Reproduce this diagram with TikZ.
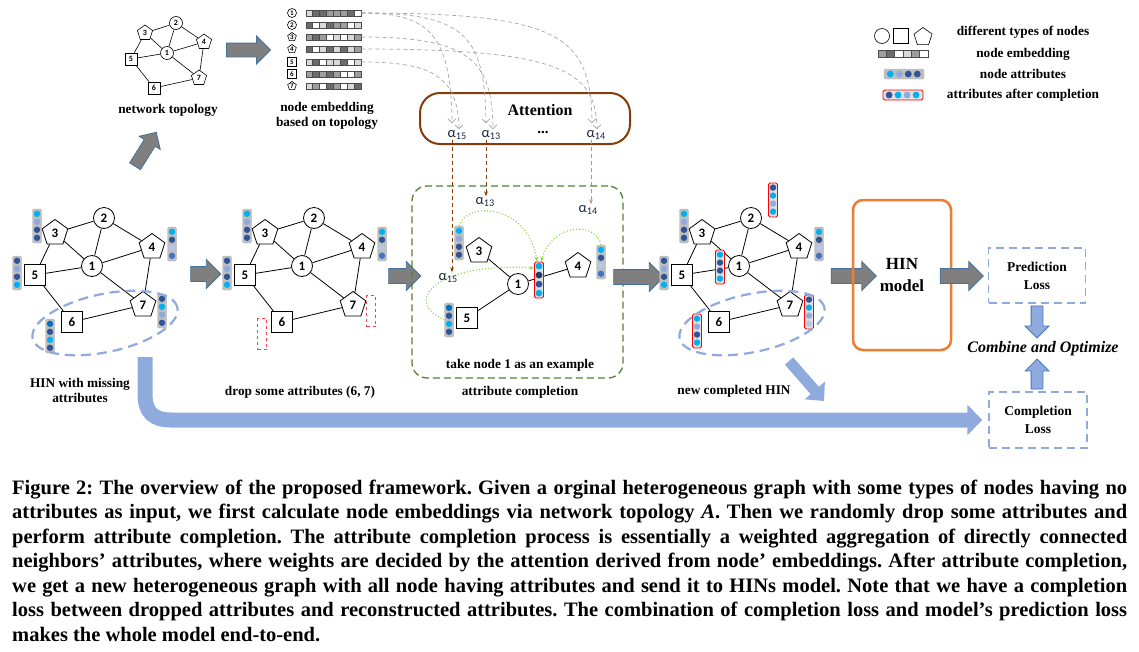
\documentclass[tikz,border=0pt]{standalone}
\usepackage{fontspec}
\setmainfont{Liberation Serif}
\newfontfamily\numfont{Carlito}
\newfontfamily\capfont{Liberation Serif}
\usetikzlibrary{arrows.meta,positioning,calc,shapes.geometric,shapes.arrows}

\definecolor{cy}{HTML}{00B0F0}
\definecolor{pw}{HTML}{8FAADC}
\definecolor{nv}{HTML}{2F5597}
\definecolor{dn}{HTML}{203864}
\definecolor{lb}{HTML}{B4C7E7}
\definecolor{mb}{HTML}{4472C4}
\definecolor{bl}{HTML}{0070C0}
\definecolor{attbrown}{HTML}{843C0C}
\definecolor{boxgreen}{HTML}{548235}
\definecolor{flowgreen}{HTML}{92D050}
\definecolor{hinorange}{HTML}{ED7D31}
\definecolor{arrowgray}{HTML}{7F7F7F}
\definecolor{arrowedge}{HTML}{41719C}
\definecolor{alphablue}{HTML}{1A2744}

\tikzset{
  lbl/.style={font=\fontsize{13.3}{15}\selectfont\bfseries, align=center, inner sep=0pt},
  edge/.style={line width=0.8pt},
  nbase/.style={draw, line width=0.8pt, fill=white, inner sep=0pt,
    font=\numfont\fontsize{13}{13}\selectfont\bfseries},
  hcirc/.style={nbase, circle, minimum size=21pt},
  hsq/.style={nbase, rectangle, minimum size=21pt},
  hpent/.style={nbase, regular polygon, regular polygon sides=5, minimum size=27pt},
  tbase/.style={draw, line width=0.6pt, fill=white, inner sep=0pt,
    font=\numfont\fontsize{8}{8}\selectfont\bfseries},
  tcirc/.style={tbase, circle, minimum size=13pt},
  tsq/.style={tbase, rectangle, minimum size=12pt},
  tpent/.style={tbase, regular polygon, regular polygon sides=5, minimum size=16pt},
  embicon/.style={tbase, shape=#1, regular polygon sides=5,
    font=\numfont\fontsize{7}{7}\selectfont\bfseries},
  embbar/.style={rectangle, draw=black!70, line width=0.5pt, minimum width=55pt,
    minimum height=6pt, inner sep=0pt},
  attrbar/.style={rectangle, fill=black!25, draw=black!30, rounded corners=1.5pt,
    minimum width=9pt, minimum height=34pt, inner sep=0pt},
  donebar/.style={attrbar, fill=black!12, draw=red, line width=0.8pt},
  dropbar/.style={rectangle, draw=red!75, dashed, line width=0.8pt,
    minimum width=9pt, minimum height=31pt, inner sep=0pt},
  hinring/.style={ellipse, draw=pw, line width=2.2pt, dash pattern=on 10pt off 6pt,
    minimum width=148pt, minimum height=58pt, inner sep=0pt, rotate=12},
  grayarrow/.style={single arrow, fill=arrowgray, draw=arrowedge, line width=0.8pt,
    inner sep=7pt, single arrow head extend=7pt},
  lossarrow/.style={single arrow, fill=pw, draw=mb, line width=0.8pt, inner sep=5.5pt,
    single arrow head extend=6pt},
  embflow/.style={draw=black!35, line width=0.7pt, dash pattern=on 4pt off 3pt,
    -{Straight Barb[length=4pt]}},
  alpha/.style={font=\numfont\fontsize{14.5}{14}\selectfont, text=alphablue,
    inner sep=0.5pt, anchor=base west},
  alphaline/.style={draw=attbrown, line width=0.8pt, dash pattern=on 4pt off 3pt,
    -{Stealth[length=5pt]}},
  greenflow/.style={draw=flowgreen, line width=1.1pt, dotted, -{Stealth[length=5pt]}},
  bigflow/.style={draw=pw, line width=15pt, -{Triangle[length=15pt,width=30pt]}},
  midflow/.style={draw=pw, line width=11pt, -{Triangle[length=14pt,width=26pt]}},
  lossbox/.style={draw=pw, line width=1.5pt, dash pattern=on 8pt off 5pt, align=center,
    font=\fontsize{13.5}{18}\selectfont\bfseries},
  capline/.style={anchor=base west, inner sep=0pt,
    font=\capfont\bfseries\fontsize{20.5}{24}\selectfont},
}

% attribute bar: name, position, style, four dot colours
\newcommand{\attr}[7]{%
  \node[#3] (#1) at (#2) {};
  \foreach \c [count=\i] in {#4,#5,#6,#7}
    \fill[\c] ($(#1.north)+(0,{8*\i-3})$) circle[radius=3.2];
}

% one heterogeneous graph
\newcommand{\hingraph}[1]{%
  \node[hcirc] (#1n1) at (92,266) {1};
  \node[hcirc] (#1n2) at (104,218) {2};
  \node[hpent] (#1n3) at (55,233) {3};
  \node[hpent] (#1n4) at (152,247) {4};
  \node[hsq] (#1n5) at (35,275) {5};
  \node[hsq] (#1n6) at (72,322) {6};
  \node[hpent] (#1n7) at (143,305) {7};
  \foreach \a/\b in {3/2,2/1,2/4,3/1,3/5,5/1,1/4,1/7,4/7,5/6,6/7}
    \draw[edge] (#1n\a) -- (#1n\b);
  \attr{#1b3}{37,226}{attrbar}{cy}{pw}{nv}{nv}
  \attr{#1b4}{172,244}{attrbar}{cy}{nv}{lb}{mb}
  \attr{#1b5}{17,273}{attrbar}{nv}{pw}{nv}{cy}
}

\begin{document}
\frenchspacing
\begin{tikzpicture}[x=1pt, y=-1pt]
  \path[use as bounding box, fill=white] (0,0) rectangle (1139,651);

  % Network topology
  \node[tcirc] (t1) at (167,53) {1};
  \node[tcirc] (t2) at (176,23) {2};
  \node[tpent] (t3) at (145,33) {3};
  \node[tpent] (t4) at (204,42) {4};
  \node[tsq] (t5) at (131,59) {5};
  \node[tsq] (t6) at (154,88) {6};
  \node[tpent] (t7) at (199,78) {7};
  \foreach \a/\b in {3/2,2/1,2/4,3/1,3/5,5/1,1/4,1/7,4/7,5/6,6/7}
    \draw[edge, line width=0.6pt] (t\a) -- (t\b);
  \node[lbl] (toplabel) at (168,110) {network topology};

  \node[grayarrow, inner sep=6.5pt, minimum height=44pt] (ar0) at (245,50) {};

  % Node embeddings
  \foreach \r/\shp/\y/\cells in {1/circle/13/{1,3,3,2,2,2,3,0},
      2/circle/25/{3,0,1,3,2,2,0,1}, 3/regular polygon/37/{2,3,2,0,1,0,1,2},
      4/regular polygon/49/{3,0,1,3,1,3,1,2}, 5/rectangle/62/{1,3,0,1,1,3,0,1},
      6/rectangle/74/{2,3,2,3,2,0,0,2}, 7/regular polygon/86/{1,2,0,3,2,0,1,3}}{
    \node[embicon=\shp, minimum size=9pt] (i\r) at (292,\y) {\r};
    \node[embbar] (e\r) at (333.5,\y) {};
    \foreach \v [count=\k] in \cells {
      \pgfmathtruncatemacro\pc{{0,15,38,58}[\v]}
      \draw[black!70, line width=0.4pt, fill=black!\pc]
        ($(e\r.west)+({(\k-1)*6.875},-3)$) rectangle ++(6.875,6);
    }
  }
  \node[lbl] (emblabel) at (327,115.5) {node embedding\\based on topology};

  % Attention
  \node[draw=attbrown, line width=2pt, rounded corners=20pt, minimum width=210pt,
    minimum height=51pt] (att) at (525,118.5) {};
  \node[font=\fontsize{16}{16}\selectfont\bfseries] (attlabel) at (540,110) {Attention};
  \node[alpha] (a15) at (447,137) {α\textsubscript{15}};
  \node[alpha] (a13) at (481,137) {α\textsubscript{13}};
  \node[alpha] (a14) at (586,137) {α\textsubscript{14}};
  \node[font=\fontsize{15}{15}\selectfont\bfseries] (adots) at (543,132) {...};

  \draw[embflow] (e1.east) .. controls (430,13) and (451,35) .. ([xshift=5pt,yshift=6pt]a15.north west);
  \draw[embflow] (e5.east) .. controls (430,62) and (458,75) .. ([xshift=12pt]a15.north west);
  \draw[embflow] (e1.east) .. controls (465,13) and (485,35) .. ([xshift=5pt,yshift=6pt]a13.north west);
  \draw[embflow] (e3.east) .. controls (470,37) and (492,60) .. ([xshift=12pt]a13.north west);
  \draw[embflow] (e1.east) .. controls (560,13) and (591,35) .. ([xshift=6pt,yshift=6pt]a14.north west);
  \draw[embflow] (e4.east) .. controls (560,49) and (596,70) .. ([xshift=11pt]a14.north west);

  % Legend
  \node[tbase, circle, minimum size=15pt] (lc) at (882,36) {};
  \node[tbase, rectangle, minimum size=15pt] (ls) at (901,36) {};
  \node[tbase, regular polygon, regular polygon sides=5, minimum size=19pt] (lp) at (923,37) {};
  \node[lbl] (lt1) at (1023,32) {different types of nodes};
  \node[embbar, minimum width=50pt, minimum height=7pt] (le) at (903,54) {};
  \foreach \v [count=\k] in {2,3,0,1,2,0} {
    \pgfmathtruncatemacro\pc{{0,15,38,58}[\v]}
    \draw[black!70, line width=0.4pt, fill=black!\pc]
      ($(le.west)+({(\k-1)*50/6},-3.5)$) rectangle ++({50/6},7);
  }
  \node[lbl] (lt2) at (1023,54) {node embedding};
  \node[attrbar, minimum width=40pt, minimum height=10pt] (la) at (904,74) {};
  \foreach \c [count=\i] in {cy,pw,nv,nv}
    \fill[\c] ($(la.west)+({9*\i-2.5},0)$) circle[radius=3.4];
  \node[lbl] (lt3) at (1023,74) {node attributes};
  \node[donebar, minimum width=40pt, minimum height=10pt] (lr) at (903,95) {};
  \foreach \c [count=\i] in {nv,cy,pw,cy}
    \fill[\c] ($(lr.west)+({9*\i-2.5},0)$) circle[radius=3.4];
  \node[lbl] (lt4) at (1023,95) {attributes after completion};

  % HIN with missing attributes
  \hingraph{ga}
  \attr{gab6}{50,336}{attrbar}{bl}{nv}{cy}{nv}
  \attr{gab7}{162,311}{attrbar}{nv}{cy}{pw}{nv}
  \node[hinring] (garing) at (105,323) {};
  \node[lbl] (galabel) at (80,390.5) {HIN with missing\\attributes};

  \node[grayarrow, minimum height=40pt, inner sep=6pt, single arrow head extend=6pt,
    rotate=58] (arup) at (144,152) {};
  \node[grayarrow, minimum height=30pt] (ar1) at (202,274) {};

  % drop some attributes
  \begin{scope}[shift={(210,0)}]
    \hingraph{gb}
    \node[dropbar] (gbd6) at (52,334) {};
    \node[dropbar] (gbd7) at (161,311) {};
  \end{scope}
  \node[lbl] (gblabel) at (300,392) {drop some attributes (6, 7)};

  \node[grayarrow, minimum height=32pt] (ar2) at (401,276) {};

  % attribute completion for node 1
  \node[draw=boxgreen, line width=1.3pt, dash pattern=on 7pt off 4pt, rounded corners=15pt,
    minimum width=211pt, minimum height=192pt] (gbox) at (517.5,282) {};
  \node[hcirc] (c1) at (518,284) {1};
  \node[hpent] (c3) at (479,251) {3};
  \node[hpent] (c4) at (578,266) {4};
  \node[hsq] (c5) at (467,318) {5};
  \foreach \a in {3,4,5}
    \draw[edge] (c1) -- (c\a);
  \attr{cb3}{459,243}{attrbar}{cy}{pw}{nv}{nv}
  \attr{cb4}{601,262}{attrbar}{cy}{nv}{lb}{mb}
  \attr{cb5}{449,320}{attrbar}{bl}{nv}{cy}{nv}
  \node[donebar, minimum height=36pt] (cb1) at (539,280) {};
  \foreach \c [count=\i] in {cy,dn,nv,cy}
    \fill[\c] ($(cb1.north)+(0,{9*\i-4.5})$) circle[radius=3.4];
  \draw[greenflow] (cb3.north) .. controls (468,200) and (528,205) .. ([xshift=-2pt]cb1.north);
  \draw[greenflow] (cb4.north) .. controls (596,222) and (553,222) .. ([xshift=2pt]cb1.north);
  \draw[greenflow] (cb5.west) .. controls (400,300) and (440,262) .. ([yshift=12pt]cb1.west);

  \node[alpha] (g15) at (438,280) {α\textsubscript{15}};
  \node[alpha] (g13) at (475,204) {α\textsubscript{13}};
  \node[alpha] (g14) at (578,212) {α\textsubscript{14}};
  \draw[alphaline] ([xshift=5pt]a15.south west) -- ([xshift=14pt]g15.north west);
  \draw[alphaline] ([xshift=5pt]a13.south west) -- ([xshift=11pt]g13.north west);
  \draw[alphaline, draw=attbrown!55] ([xshift=5pt]a14.south west) -- ([xshift=13pt]g14.north west);

  \node[lbl] (exlabel) at (520,365) {take node 1 as an example};
  \node[lbl] (gclabel) at (520,392) {attribute completion};

  \node[grayarrow, minimum height=50pt] (ar3) at (635,277) {};

  % new completed HIN
  \begin{scope}[shift={(647,0)}]
    \hingraph{gd}
    \attr{gdb2}{126,200}{donebar}{nv}{cy}{pw}{cy}
    \attr{gdb1}{73,267}{donebar}{cy}{nv}{nv}{cy}
    \attr{gdb6}{50,331}{donebar}{cy}{pw}{nv}{cy}
    \attr{gdb7}{162,312}{donebar}{nv}{cy}{pw}{lb}
    \node[hinring] (gdring) at (105,323) {};
  \end{scope}
  \node[lbl] (gdlabel) at (734,391) {new completed HIN};

  \node[grayarrow, minimum height=45pt] (ar4) at (850,276) {};

  % HIN model and losses
  \node[draw=hinorange, line width=2.5pt, rounded corners=10pt, minimum width=98pt,
    minimum height=150pt, align=center, font=\fontsize{17}{22}\selectfont\bfseries]
    (hin) at (902,275) {HIN\\model};
  \node[grayarrow, minimum height=43pt] (ar5) at (958,276) {};
  \node[lossbox, minimum width=97pt, minimum height=55pt] (pred) at (1037,275.5) {Prediction\\Loss};
  \node[lossbox, minimum width=98pt, minimum height=56pt] (closs) at (1038,420) {Completion\\Loss};
  \node[lossarrow, minimum height=32pt, rotate=-90] (down) at (1037,319) {};
  \node[lossarrow, minimum height=30pt, rotate=90] (up) at (1037,377) {};
  \node[font=\fontsize{16}{16}\selectfont\bfseries\itshape] (comb) at (1043,349) {Combine and Optimize};

  % Blue flows
  \coordinate (hinbot) at (145,357);
  \draw[bigflow, shorten >=6pt] (hinbot) -- (145,394) .. controls (145,412) and (153,420) .. (171,420) -- (closs.west);
  \coordinate (newtail) at (789,361);
  \coordinate (newtip) at (824,401);
  \draw[midflow] (newtail) -- (newtip);

  % Caption
  \node[capline] (cap1) at (12,494) {\makebox[1115pt][s]{Figure 2: The overview of the proposed framework. Given a orginal heterogeneous graph with some types of nodes having no}};
  \node[capline] (cap2) at (12,518.5) {\makebox[1115pt][s]{attributes as input, we first calculate node embeddings via network topology \textit{A}. Then we randomly drop some attributes and}};
  \node[capline] (cap3) at (12,543) {\makebox[1115pt][s]{perform attribute completion. The attribute completion process is essentially a weighted aggregation of directly connected}};
  \node[capline] (cap4) at (12,567.5) {\makebox[1115pt][s]{neighbors’ attributes, where weights are decided by the attention derived from node’ embeddings. After attribute completion,}};
  \node[capline] (cap5) at (12,592) {\makebox[1115pt][s]{we get a new heterogeneous graph with all node having attributes and send it to HINs model. Note that we have a completion}};
  \node[capline] (cap6) at (12,616.5) {\makebox[1115pt][s]{loss between dropped attributes and reconstructed attributes. The combination of completion loss and model’s prediction loss}};
  \node[capline] (cap7) at (12,641) {makes the whole model end-to-end.};
\end{tikzpicture}
\end{document}
